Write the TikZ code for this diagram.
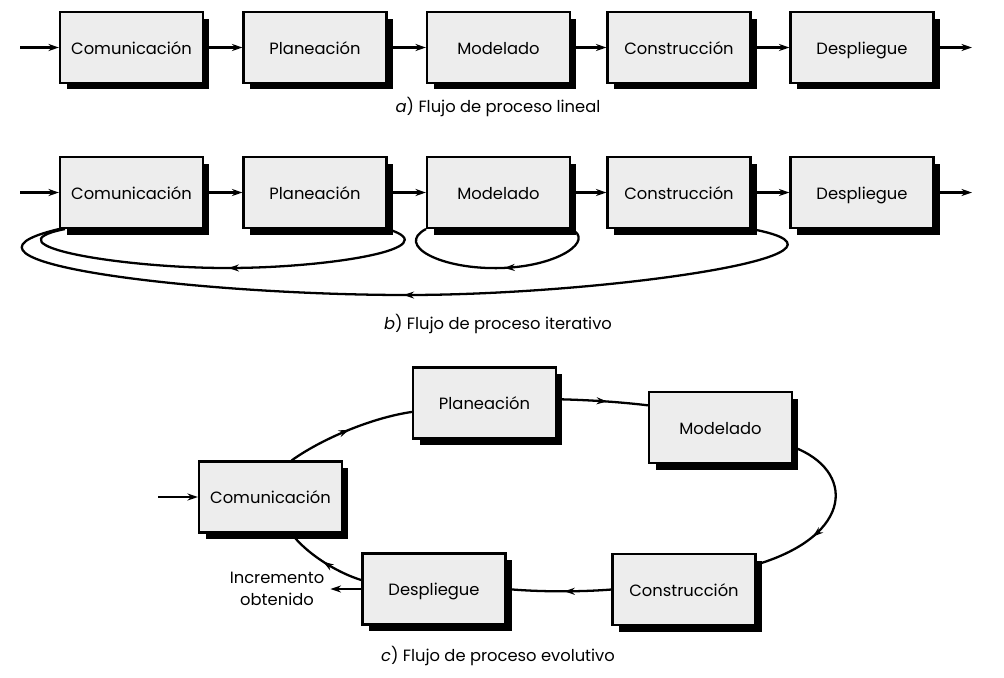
\documentclass[tikz,border=0pt]{standalone}
\usepackage{fontspec}
\setmainfont{Poppins}
\usetikzlibrary{arrows.meta,shadows,decorations.markings,backgrounds,calc}

\begin{document}
\begin{tikzpicture}[x=0.02cm,y=-0.02cm,
    stage/.style={draw=black,line width=1.2pt,fill=black!7,
      minimum width=2.86cm,minimum height=1.42cm,
      text height=1.9ex,text depth=0.5ex,
      drop shadow={shadow xshift=0.13cm,shadow yshift=-0.13cm,fill=black,opacity=1},
      font=\fontsize{9.3}{11}\selectfont},
    flow/.style={line width=1.3pt,-{Stealth[length=6pt,width=4pt]}},
    curve/.style={line width=1.3pt},
    tipat/.style={decoration={markings,
        mark=at position #1 with {\arrow{Stealth[length=6pt,width=4pt]}}},
      postaction={decorate}},
    caption/.style={font=\fontsize{9.3}{11}\selectfont}]
  \useasboundingbox (0,0) rectangle (1004,677);

  % a) lineal
  \draw
    (131.5,47.5) node[stage] (a1){Comunicación}
    (315,47.5) node[stage] (a2){Planeación}
    (498.5,47.5) node[stage] (a3){Modelado}
    (679,47.5) node[stage] (a4){Construcción}
    (862,47.5) node[stage] (a5){Despliegue};
  \coordinate (ina) at (20,47.5);
  \coordinate (outa) at (972,47.5);
  \node[caption] (capa) at (498,107) {\textit{a}) Flujo de proceso lineal};
  \begin{scope}[flow]
    \draw (ina) to (a1);
    \draw (a1) to (a2);
    \draw (a2) to (a3);
    \draw (a3) to (a4);
    \draw (a4) to (a5);
    \draw (a5) to (outa);
  \end{scope}

  % b) iterativo
  \draw
    (131.5,192.5) node[stage] (b1){Comunicación}
    (315,192.5) node[stage] (b2){Planeación}
    (498.5,192.5) node[stage] (b3){Modelado}
    (679,192.5) node[stage] (b4){Construcción}
    (862,192.5) node[stage] (b5){Despliegue};
  \coordinate (inb) at (20,192.5);
  \coordinate (outb) at (972,192.5);
  \node[caption] (capb) at (498,324) {\textit{b}) Flujo de proceso iterativo};
  \begin{scope}[flow]
    \draw (inb) to (b1);
    \draw (b1) to (b2);
    \draw (b2) to (b3);
    \draw (b3) to (b4);
    \draw (b4) to (b5);
    \draw (b5) to (outb);
  \end{scope}
  \begin{scope}[on background layer]
    \draw[curve,tipat=0.48] (b2.south east) .. controls (450,248) and (330,268) .. (227,268)
      .. controls (120,268) and (-15,245) .. ($(b1.south west)+(6,0)$);
    \draw[curve,tipat=0.46] (b3.south east) .. controls (595,240) and (560,266) .. (502,268)
      .. controls (440,270) and (395,245) .. (b3.south west);
    \draw[curve,tipat=0.5] (b4.south east) .. controls (890,255) and (600,295) .. (407,295)
      .. controls (200,295) and (-80,262) .. (b1.south west);
  \end{scope}

  % c) evolutivo
  \draw
    (270.5,497) node[stage] (c1){Comunicación}
    (484.5,403) node[stage] (c2){Planeación}
    (720.5,427.5) node[stage] (c3){Modelado}
    (684,589.5) node[stage] (c4){Construcción}
    (434,589) node[stage] (c5){Despliegue};
  \coordinate (inc) at (158,497);
  \node[caption,align=center,font=\fontsize{9.3}{12.5}\selectfont] (incr) at (277,589) {Incremento\\obtenido};
  \node[caption] (capc) at (498,656) {\textit{c}) Flujo de proceso evolutivo};
  \begin{scope}[flow]
    \draw (inc) to (c1);
    \draw (c5.west) to (incr.east);
  \end{scope}
  \begin{scope}[on background layer]
    \draw[curve,tipat=0.5] (c1.60) .. controls (320,440) and (370,418) .. (c2.187);
    \draw[curve,tipat=0.55] (c2.3) .. controls (590,400) and (620,402) .. (c3.163);
    \draw[curve,tipat=0.65] (c3.-15) .. controls (855,470) and (855,535) .. (c4.19);
    \draw[curve,tipat=0.45] (c4.west) .. controls (580,592) and (540,592) .. (c5.east);
    \draw[curve,tipat=0.5] (c5.173) .. controls (335,572) and (305,552) .. (c1.-60);
  \end{scope}
\end{tikzpicture}
\end{document}
